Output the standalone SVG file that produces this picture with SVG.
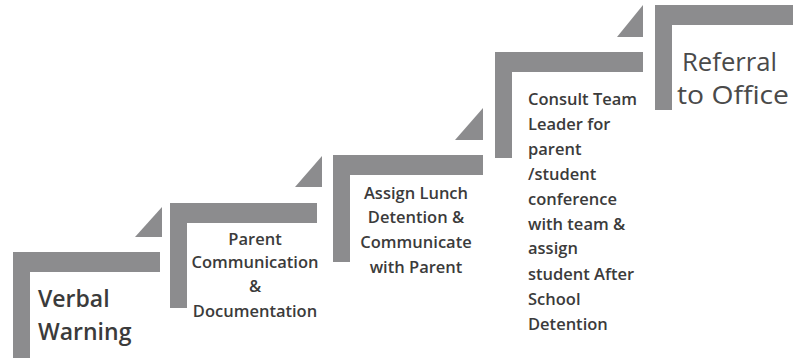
<svg xmlns="http://www.w3.org/2000/svg" width="793" height="358" viewBox="0 0 793 358">
<style>
.bar{fill:#8c8c8e}
.tri{fill:#8c8c8e}
.t{font-family:"Open Sans","Liberation Sans",sans-serif;font-weight:600;fill:#3b3b3b;font-size:16.5px}
.big{font-family:"Open Sans","Liberation Sans",sans-serif;font-weight:600;fill:#3b3b3b;font-size:23px}
.ref{font-family:"Open Sans","Liberation Sans",sans-serif;font-weight:400;fill:#4a4a4a;font-size:25px}
.c{text-anchor:middle}
</style>
<rect width="793" height="358" fill="#ffffff"/>
<g id="connectors">
<polygon class="tri" points="135,237 162,237 162,207"/>
<polygon class="tri" points="295,187 322,187 322,156"/>
<polygon class="tri" points="455,140 483,140 483,108"/>
<polygon class="tri" points="617,37 643,37 643,5"/>
</g>
<g id="step1">
<path class="bar" d="M13,252 H160 V272 H30 V358 H13 Z"/>
<text class="big" x="38" y="307">Verbal</text>
<text class="big" x="38" y="340">Warning</text>
</g>
<g id="step2">
<path class="bar" d="M170,203 H317 V223 H187 V308 H170 Z"/>
<text class="t c" x="255" y="245">Parent</text>
<text class="t c" x="255" y="268">Communication</text>
<text class="t c" x="255" y="292">&amp;</text>
<text class="t c" x="255" y="317">Documentation</text>
</g>
<g id="step3">
<path class="bar" d="M333,155 H483 V175 H350 V262 H333 Z"/>
<text class="t c" x="416" y="199">Assign Lunch</text>
<text class="t c" x="416" y="223">Detention &amp;</text>
<text class="t c" x="416" y="248">Communicate</text>
<text class="t c" x="416" y="273">with Parent</text>
</g>
<g id="step4">
<path class="bar" d="M495,52 H643 V72 H512 V158 H495 Z"/>
<text class="t" x="528" y="105">Consult Team</text>
<text class="t" x="528" y="130">Leader for</text>
<text class="t" x="528" y="155">parent</text>
<text class="t" x="528" y="180">/student</text>
<text class="t" x="528" y="205">conference</text>
<text class="t" x="528" y="230">with team &amp;</text>
<text class="t" x="528" y="254">assign</text>
<text class="t" x="528" y="280">student After</text>
<text class="t" x="528" y="305">School</text>
<text class="t" x="528" y="330">Detention</text>
</g>
<g id="step5">
<path class="bar" d="M655,5 H793 V25 H672 V110 H655 Z"/>
<text class="ref" x="682" y="71" textLength="95" lengthAdjust="spacingAndGlyphs">Referral</text>
<text class="ref" x="677" y="104" textLength="112" lengthAdjust="spacingAndGlyphs">to Office</text>
</g>
</svg>
